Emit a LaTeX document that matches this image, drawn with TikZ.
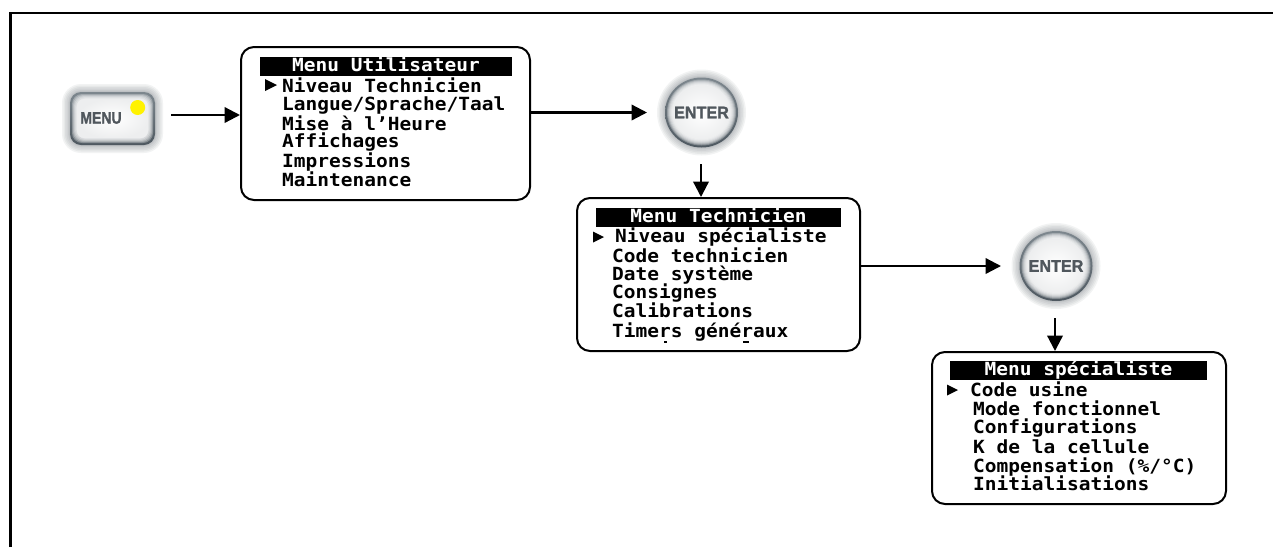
\documentclass[tikz,border=0pt]{standalone}
\usepackage{fontspec}
\setmonofont{DejaVu Sans Mono}[BoldFont={DejaVu Sans Mono Bold}]
\newfontfamily\btnfont{Liberation Sans}[BoldFont={Liberation Sans Bold},BoldFeatures={FakeBold=1.6}]
\usetikzlibrary{arrows.meta}
\definecolor{rimdark}{RGB}{78,88,96}
\definecolor{rimlight}{RGB}{125,135,142}
\definecolor{btntxt}{RGB}{80,87,93}
\newcommand{\squash}[1]{\scalebox{1}[.93]{#1}}
\tikzset{
  x=1pt,y=-1pt,
  panel/.style={draw=black,line width=2pt,rounded corners=13pt,fill=white,inner sep=0pt},
  headbar/.style={fill=black,text=white,inner sep=0pt,text height=14pt,text depth=5pt,font=\ttfamily\bfseries\fontsize{19.5}{19.5}\selectfont,anchor=center},
  item/.style={inner sep=0pt,anchor=base west,text=black,font=\ttfamily\bfseries\fontsize{19.5}{19.5}\selectfont},
  link/.style={line width=2.3pt,-{Triangle[length=15.5pt,width=15.5pt]}},
  btnlabel/.style={text=btntxt,inner sep=0pt},
}
\newcommand{\tri}[4]{\fill[black] (#1,#2-#4/2) -- (#1+#3,#2) -- (#1,#2+#4/2) -- cycle;}
\newcommand{\glowcircle}[2]{%
  \foreach \k in {8,6.5,5,3.5,2,1}{\fill[rimdark,opacity=0.07] (#1,#2) ellipse [x radius=36.5+\k,y radius=35+\k];}%
  \shade[top color=rimlight,bottom color=rimdark] (#1,#2) ellipse [x radius=36.5,y radius=35];%
  \foreach \k in {2,3,4,5,6,7}{\fill[white,opacity=0.3] (#1,#2) ellipse [x radius=36.5-\k,y radius=35-\k];}%
  \shade[inner color=white,outer color=white!90!rimdark] (#1,#2) ellipse [x radius=28.5,y radius=27];%
}
\begin{document}
\begin{tikzpicture}
\useasboundingbox (0,0) rectangle (1273,547);
\fill[white] (0,0) rectangle (1273,547);
\draw[line width=3pt] (10.5,547) -- (10.5,12);
\draw[line width=2pt] (9,13) -- (1273,13);
% MENU button
\foreach \k in {8,6.5,5,3.5,2,1}{\fill[rimdark,opacity=0.07,rounded corners=11pt+\k] (70-\k,92-\k) rectangle (155+\k,145+\k);}
\shade[top color=rimlight,bottom color=rimdark,rounded corners=11pt] (70,92) rectangle (155,145);
\foreach \k in {2,3,4,5,6}{\fill[white,opacity=0.3,rounded corners=10pt] (70+\k,92+\k) rectangle (155-\k,145-\k);}
\shade[inner color=white,outer color=white!90!rimdark,rounded corners=7pt] (77,99) rectangle (148,138);
\node[btnlabel,font=\btnfont\bfseries\fontsize{16.5}{16.5}\selectfont] (menulabel) at (101,118) {\scalebox{.85}[1]{MENU}};
\fill[yellow] (137.7,107.5) circle (7.5);
\coordinate (menuout) at (171,115);
% ENTER 1
\glowcircle{701.5}{112.5}
\node[btnlabel,font=\btnfont\bfseries\fontsize{17}{17}\selectfont] (enter1) at (701.5,112.5) {\scalebox{.95}[1]{ENTER}};
\coordinate (enter1in) at (647,112.5);
\coordinate (enter1out) at (701,164);
% ENTER 2
\glowcircle{1056}{266}
\node[btnlabel,font=\btnfont\bfseries\fontsize{17}{17}\selectfont] (enter2) at (1056,266) {\scalebox{.95}[1]{ENTER}};
\coordinate (enter2in) at (1001,266);
\coordinate (enter2out) at (1055,318);
% panels
\node[panel,minimum width=289pt,minimum height=153pt] (p1) at (385.5,123.5) {};
\node[panel,minimum width=283pt,minimum height=153pt] (p2) at (718.5,274.5) {};
\node[panel,minimum width=294pt,minimum height=152pt] (p3) at (1079,428) {};
% panel 1 text
\node[headbar,minimum width=252pt,minimum height=19pt] (h1) at (386,66.5) {\squash{Menu Utilisateur}};
\tri{265}{85}{12}{12}
\node[item] (a1) at (282,92) {\squash{Niveau Technicien}};
\node[item] (a2) at (282,110.5) {\squash{Langue/Sprache/Taal}};
\node[item] (a3) at (282,130) {\squash{Mise à l’Heure}};
\node[item] (a4) at (282,147.5) {\squash{Affichages}};
\node[item] (a5) at (282,167) {\squash{Impressions}};
\node[item] (a6) at (282,186) {\squash{Maintenance}};
% panel 2 text
\node[headbar,minimum width=245pt,minimum height=19pt] (h2) at (718.5,217.5) {\squash{Menu Technicien}};
\tri{593}{237}{11}{11}
\node[item] (b1) at (615,242.5) {\squash{Niveau spécialiste}};
\node[item] (b2) at (612,262) {\squash{Code technicien}};
\node[item] (b3) at (612,280) {\squash{Date système}};
\node[item] (b4) at (612,298.5) {\squash{Consignes}};
\node[item] (b5) at (612,317.5) {\squash{Calibrations}};
\node[item] (b6) at (612,337) {\squash{Timers généraux}};
\fill[black] (663.5,341) rectangle (667,342.5);
\fill[black] (743,341) rectangle (749,342.5);
% panel 3 text
\node[headbar,minimum width=257pt,minimum height=19pt] (h3) at (1078.5,370.5) {\squash{Menu spécialiste}};
\tri{947}{390}{11}{11}
\node[item] (c1) at (970,396) {\squash{Code usine}};
\node[item] (c2) at (973,415) {\squash{Mode fonctionnel}};
\node[item] (c3) at (973,433) {\squash{Configurations}};
\node[item] (c4) at (973,453) {\squash{K de la cellule}};
\node[item] (c5) at (973,472) {\squash{Compensation (\%/°C)}};
\node[item] (c6) at (973,490) {\squash{Initialisations}};
% connectors
\draw[link] (menuout) -- (p1.west |- menuout);
\draw[link] (p1.east |- enter1in) -- (enter1in);
\draw[link] (enter1out) -- (enter1out |- p2.north);
\draw[link] (p2.east |- enter2in) -- (enter2in);
\draw[link] (enter2out) -- (enter2out |- p3.north);
\end{tikzpicture}
\end{document}
